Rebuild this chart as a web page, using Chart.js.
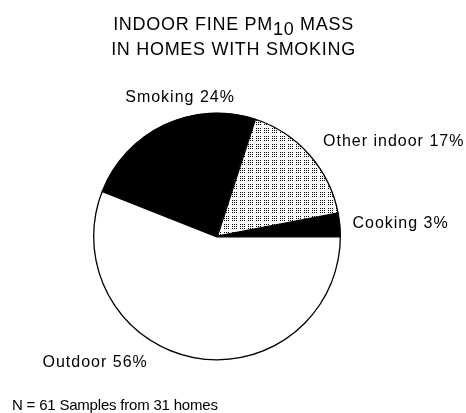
<!DOCTYPE html>
<html>
<head>
<meta charset="utf-8">
<script src="https://cdn.jsdelivr.net/npm/chart.js@4"></script>
<style>
  body { margin: 0; background: #fff; }
</style>
</head>
<body>
<canvas id="pieChart" width="466" height="413"></canvas>
<script>
// share of indoor fine PM10 mass by source, clockwise from 3 o'clock
const sources = ['Outdoor', 'Smoking', 'Other indoor', 'Cooking'];
const shares = [56, 24, 17, 3];
const fills = ['white', 'black', 'dots', 'black'];

const titleLines = ['INDOOR FINE PM', ' MASS', 'IN HOMES WITH SMOKING'];
const footnote = 'N = 61 Samples from 31 homes';

// where each label sits relative to the outer midpoint of its slice
const labelOffsets = [
  { dx: -46, dy: 9, align: 'right' },
  { dx: -39, dy: -22, align: 'left' },
  { dx: 13, dy: -8, align: 'left' },
  { dx: 12, dy: 3, align: 'left' }
];

function dotPattern() {
  const tile = document.createElement('canvas');
  tile.width = 8;
  tile.height = 8;
  const t = tile.getContext('2d');
  t.fillStyle = '#fff';
  t.fillRect(0, 0, 8, 8);
  t.fillStyle = '#000';
  for (let y = 0; y < 8; y += 2) {
    for (let x = 0; x < 8; x += 2) {
      if (x === 6 || y === 6) continue;
      t.fillRect(x, y, 1, 1);
    }
  }
  return t.createPattern(tile, 'repeat');
}

const ctx = document.getElementById('pieChart').getContext('2d');
const dots = dotPattern();

const textLayer = {
  id: 'textLayer',
  afterDraw(chart) {
    const c = chart.ctx;
    c.save();
    c.fillStyle = '#000';
    c.textBaseline = 'alphabetic';

    // title with subscripted 10
    c.font = '18px "Liberation Sans", Arial, sans-serif';
    c.letterSpacing = '0.7px';
    c.textAlign = 'left';
    const w1 = c.measureText(titleLines[0]).width;
    const w2 = c.measureText('10').width;
    const w3 = c.measureText(titleLines[1]).width;
    let x = 233.5 - (w1 + w2 + w3) / 2;
    c.fillText(titleLines[0], x, 30);
    c.fillText('10', x + w1, 35);
    c.fillText(titleLines[1], x + w1 + w2, 30);
    c.textAlign = 'center';
    c.fillText(titleLines[2], 233.5, 55);

    // slice labels
    c.font = '16px "Liberation Sans", Arial, sans-serif';
    c.letterSpacing = '1px';
    const arcs = chart.getDatasetMeta(0).data;
    arcs.forEach((arc, i) => {
      const p = arc.getProps(['x', 'y', 'startAngle', 'endAngle', 'outerRadius'], true);
      const mid = (p.startAngle + p.endAngle) / 2;
      const off = labelOffsets[i];
      const lx = p.x + Math.cos(mid) * p.outerRadius + off.dx;
      const ly = p.y + Math.sin(mid) * p.outerRadius + off.dy;
      c.textAlign = off.align;
      c.fillText(sources[i] + ' ' + shares[i] + '%', lx, ly);
    });

    c.font = '15px "Liberation Sans", Arial, sans-serif';
    c.letterSpacing = '-0.2px';
    c.textAlign = 'left';
    c.fillText(footnote, 12, 410);
    c.restore();
  }
};

new Chart(ctx, {
  type: 'pie',
  data: {
    labels: sources,
    datasets: [{
      data: shares,
      backgroundColor: fills.map(f => f === 'dots' ? dots : f),
      borderColor: '#000',
      borderWidth: 1,
      borderAlign: 'inner'
    }]
  },
  options: {
    responsive: false,
    animation: false,
    rotation: 90,
    layout: { padding: { left: 93, top: 112, right: 125, bottom: 52 } },
    plugins: {
      legend: { display: false },
      tooltip: { enabled: false },
      title: { display: false }
    }
  },
  plugins: [textLayer]
});
</script>
</body>
</html>
